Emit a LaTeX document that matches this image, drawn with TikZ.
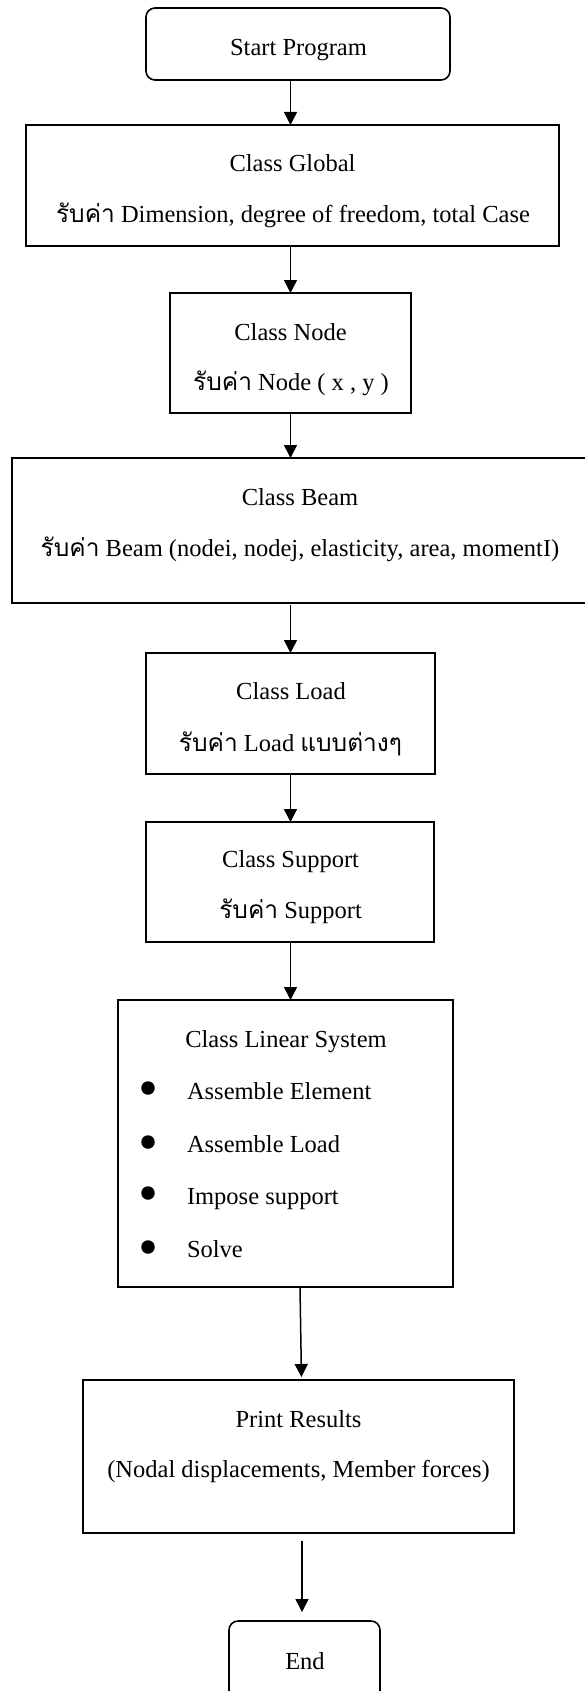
\documentclass[tikz,border=0pt]{standalone}
\usepackage{fontspec}
\setmainfont{Liberation Serif}
\newfontfamily\thai[Script=Thai]{Loma}
\usetikzlibrary{arrows.meta}
\newcommand{\rb}{{\thai รับค่า}}

\begin{document}
\begin{tikzpicture}[x=1pt,y=1pt,
  box/.style={draw, line width=1.6pt, inner sep=0pt, outer sep=0pt},
  term/.style={box, rounded corners=9pt},
  txt/.style={anchor=base, inner sep=0pt, outer sep=0pt, font=\fontsize{24.5}{29}\selectfont},
  item/.style={txt, anchor=base west},
  flow/.style={line width=1.5pt, -{Triangle[length=13pt,width=13pt]}},
  dot/.style={circle, fill, inner sep=0pt, minimum size=13.5pt}]

\useasboundingbox (0,0) rectangle (584,-1691);

% boxes
\node[term, minimum width=304, minimum height=72]  (start)   at (298,-44) {};
\node[box,  minimum width=533, minimum height=121] (global)  at (292.5,-185.5) {};
\node[box,  minimum width=241, minimum height=120] (nodebox) at (290.5,-353) {};
\node[box,  minimum width=576, minimum height=145] (beam)    at (300,-530.5) {};
\node[box,  minimum width=289, minimum height=121] (load)    at (290.5,-713.5) {};
\node[box,  minimum width=288, minimum height=120] (support) at (290,-882) {};
\node[box,  minimum width=335, minimum height=287] (linear)  at (285.5,-1143.5) {};
\node[box,  minimum width=431, minimum height=153] (print)   at (298.5,-1456.5) {};
\node[term, minimum width=151, minimum height=89]  (end)     at (304.5,-1665.5) {};

% texts
\node[txt] (startT) at (298.5,-56) {Start Program};
\node[txt] (globalA) at (292.5,-171.5) {Class Global};
\node[txt] (globalB) at (293,-222) {\rb{} Dimension, degree of freedom, total Case};
\node[txt] (nodeA) at (290.5,-340) {Class Node};
\node[txt] (nodeB) at (291,-390) {\rb{} Node ( x , y )};
\node[txt] (beamA) at (300,-505) {Class Beam};
\node[txt] (beamB) at (300,-556) {\rb{} Beam (nodei, nodej, elasticity, area, momentI)};
\node[txt] (loadA) at (291,-699) {Class Load};
\node[txt] (loadB) at (290.5,-751) {\rb{} Load {\thai แบบต่างๆ}};
\node[txt] (supA) at (290.6,-867) {Class Support};
\node[txt] (supB) at (290.6,-918) {\rb{} Support};
\node[txt] (linA) at (286,-1047) {Class Linear System};
\node[item] (lin1) at (187,-1099) {Assemble Element};
\node[item] (lin2) at (187,-1152) {Assemble Load};
\node[item] (lin3) at (187,-1204) {Impose support};
\node[item] (lin4) at (187,-1257) {Solve};
\node[dot] (d1) at (148,-1088) {};
\node[dot] (d2) at (148,-1142) {};
\node[dot] (d3) at (148,-1193) {};
\node[dot] (d4) at (148,-1247) {};
\node[txt] (printA) at (298.5,-1427) {Print Results};
\node[txt] (printB) at (298.5,-1477) {(Nodal displacements, Member forces)};
\node[txt] (endT) at (305,-1669) {End};

% connectors
\coordinate (axis) at (290.5,0);
\draw[flow] (start.south -| axis) -- (global.north -| axis);
\draw[flow] (global.south -| axis) -- (nodebox.north -| axis);
\draw[flow] (nodebox.south -| axis) -- (beam.north -| axis);
\draw[flow, shorten <=2pt] (beam.south -| axis) -- (load.north -| axis);
\draw[flow] (load.south -| axis) -- (support.north -| axis);
\draw[flow] (support.south -| axis) -- (linear.north -| axis);
\draw[flow, shorten >=3pt] ([xshift=14.5pt]linear.south) -- ([xshift=3pt]print.north);
\draw[flow, shorten <=8pt, shorten >=9pt] ([xshift=3.5pt]print.south) -- ([xshift=-2.5pt]end.north);
\end{tikzpicture}
\end{document}
